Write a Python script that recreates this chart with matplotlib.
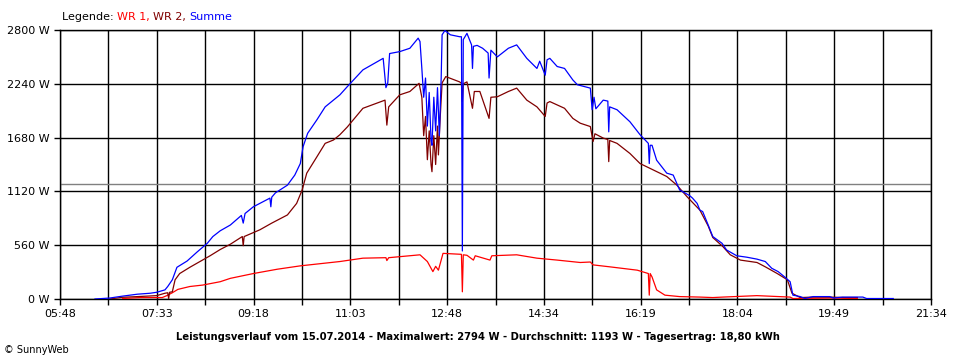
import numpy as np
import matplotlib
matplotlib.use("Agg")
import matplotlib.pyplot as plt

# Daten, Zeit als "HH:MM", Leistung in W
ZEIT_SUMME = ["06:26", "06:42", "06:56", "07:12", "07:26", "07:33", "07:42", "07:45", "07:50", "07:55",
              "08:06", "08:17", "08:28", "08:34", "08:42", "08:53", "09:05", "09:07", "09:09", "09:18",
              "09:36", "09:37", "09:38", "09:42", "09:55", "10:03", "10:09", "10:12", "10:17", "10:27",
              "10:36", "10:45", "10:52", "11:00", "11:17", "11:39", "11:42", "11:44", "11:46", "11:57",
              "12:08", "12:17", "12:19", "12:21", "12:23", "12:25", "12:27", "12:29", "12:31", "12:32",
              "12:34", "12:36", "12:38", "12:40", "12:42", "12:43", "12:46", "12:52", "13:02", "13:04",
              "13:05", "13:06", "13:10", "13:15", "13:16", "13:17", "13:21", "13:27", "13:33", "13:34",
              "13:36", "13:43", "13:55", "14:04", "14:15", "14:26", "14:29", "14:35", "14:37", "14:40",
              "14:48", "14:56", "15:05", "15:10", "15:24", "15:26", "15:28", "15:30", "15:38", "15:43",
              "15:44", "15:45", "15:53", "16:07", "16:18", "16:27", "16:28", "16:29", "16:31", "16:36",
              "16:47", "16:54", "17:01", "17:12", "17:15", "17:20", "17:23", "17:26", "17:32", "17:37",
              "17:47", "17:52", "18:03", "18:14", "18:25", "18:34", "18:41", "18:48", "18:55", "19:01",
              "19:04", "19:12", "19:17", "19:26", "19:44", "19:48", "19:58", "20:20", "20:24", "20:53"]
WERT_SUMME = [0, 10, 30, 50, 60, 70, 95, 130, 200, 330,
              395, 490, 580, 650, 710, 770, 870, 790, 890, 960,
              1050, 960, 1060, 1105, 1185, 1290, 1410, 1585, 1725, 1865,
              2000, 2070, 2125, 2210, 2385, 2505, 2200, 2250, 2555, 2575,
              2610, 2715, 2680, 2400, 2100, 2300, 1800, 2150, 1650, 1600,
              2100, 1750, 2200, 1700, 2300, 2750, 2794, 2750, 2730, 2730,
              500, 2700, 2765, 2645, 2400, 2630, 2640, 2610, 2560, 2300,
              2590, 2520, 2610, 2645, 2505, 2400, 2475, 2330, 2490, 2505,
              2420, 2400, 2280, 2230, 2195, 1970, 2100, 1980, 2070, 2060,
              1740, 2000, 1970, 1845, 1710, 1620, 1410, 1600, 1600, 1445,
              1310, 1290, 1135, 1075, 1050, 995, 925, 910, 770, 650,
              580, 510, 450, 435, 415, 390, 320, 285, 230, 180,
              40, 25, 5, 25, 25, 10, 20, 20, 5, 5]

ZEIT_WR2 = ["06:42", "06:56", "07:12", "07:33", "07:42", "07:45", "07:46", "07:47", "07:50", "07:53",
            "07:58", "08:09", "08:20", "08:31", "08:42", "08:53", "09:06", "09:07", "09:08", "09:25",
            "09:38", "09:55", "10:05", "10:11", "10:16", "10:27", "10:36", "10:45", "10:52", "11:00",
            "11:17", "11:41", "11:43", "11:45", "11:57", "12:08", "12:18", "12:21", "12:23", "12:25",
            "12:27", "12:29", "12:31", "12:32", "12:34", "12:36", "12:38", "12:39", "12:41", "12:43",
            "12:47", "13:02", "13:04", "13:05", "13:06", "13:10", "13:16", "13:18", "13:24", "13:34",
            "13:36", "13:43", "13:55", "14:04", "14:15", "14:26", "14:35", "14:37", "14:40", "14:48",
            "14:56", "15:05", "15:13", "15:24", "15:27", "15:29", "15:38", "15:43", "15:44", "15:45",
            "15:53", "16:07", "16:18", "16:32", "16:47", "16:58", "17:09", "17:23", "17:32", "17:37",
            "17:48", "17:56", "18:07", "18:25", "18:34", "18:47", "18:58", "19:03", "19:12", "19:26",
            "19:44", "20:00", "20:14"]
WERT_WR2 = [0, 18, 25, 35, 60, 65, 5, 70, 75, 200,
            265, 330, 390, 450, 515, 570, 650, 555, 650, 720,
            790, 875, 995, 1135, 1310, 1480, 1620, 1655, 1710, 1790,
            1985, 2070, 1810, 2000, 2125, 2160, 2245, 2100, 1700, 1900,
            1450, 1750, 1400, 1325, 1700, 1400, 1800, 1500, 1900, 2250,
            2315, 2260, 2245, 2055, 2240, 2260, 1985, 2160, 2160, 1880,
            2100, 2105, 2160, 2195, 2070, 2000, 1900, 2040, 2055, 2020,
            1985, 1880, 1830, 1795, 1640, 1720, 1675, 1660, 1430, 1650,
            1620, 1515, 1410, 1345, 1275, 1185, 1065, 925, 760, 640,
            545, 460, 405, 380, 335, 265, 200, 60, 15, 20,
            20, 15, 15]

ZEIT_WR1 = ["06:56", "07:15", "07:39", "07:44", "07:50", "07:56", "08:09", "08:23", "08:42", "08:53",
            "09:18", "09:44", "10:09", "10:52", "11:17", "11:42", "11:43", "11:45", "12:19", "12:27",
            "12:33", "12:36", "12:39", "12:44", "13:04", "13:05", "13:06", "13:10", "13:17", "13:19",
            "13:35", "13:37", "14:04", "14:26", "14:48", "15:13", "15:24", "15:27", "15:45", "16:15",
            "16:27", "16:28", "16:29", "16:31", "16:36", "16:45", "17:01", "17:23", "17:37", "17:48",
            "18:25", "19:01", "19:04", "19:44", "20:14"]
WERT_WR1 = [5, 15, 15, 35, 65, 100, 130, 145, 180, 215,
            265, 310, 345, 390, 425, 430, 400, 430, 460, 390,
            285, 340, 300, 475, 465, 75, 460, 455, 405, 450,
            405, 450, 460, 425, 405, 380, 385, 355, 335, 300,
            265, 40, 265, 230, 95, 40, 25, 20, 15, 20,
            35, 20, 5, 10, 5]

DURCHSCHNITT = 1193
X_LABELS = ["05:48", "07:33", "09:18", "11:03", "12:48", "14:34", "16:19", "18:04", "19:49", "21:34"]
Y_TICKS = [0, 560, 1120, 1680, 2240, 2800]
UNTERTITEL = ("Leistungsverlauf vom 15.07.2014 - Maximalwert: 2794 W - "
              "Durchschnitt: 1193 W - Tagesertrag: 18,80 kWh")


def minuten(zeiten):
    return np.array([int(z[:2]) * 60 + int(z[3:]) for z in zeiten])


fig = plt.figure(figsize=(9.6, 3.6), dpi=100)
ax = fig.add_axes([60 / 960, 61 / 360, 871 / 960, 269 / 360])

x_start, x_end = minuten(["05:48", "21:34"])
major = np.linspace(x_start, x_end, len(X_LABELS))
minor = (major[:-1] + major[1:]) / 2

ax.set_xlim(x_start, x_end)
ax.set_ylim(0, 2800)
ax.set_xticks(major)
ax.set_xticklabels(X_LABELS)
ax.set_xticks(minor, minor=True)
ax.set_yticks(Y_TICKS)
ax.set_yticklabels([f"{v} W" for v in Y_TICKS])
ax.tick_params(axis="both", which="both", direction="out", length=4, width=1,
               color="black", labelsize=8)
ax.tick_params(axis="x", pad=3)
ax.grid(True, which="both", color="black", linewidth=1.0)
ax.set_axisbelow(True)
for s in ax.spines.values():
    s.set_color("black")
    s.set_linewidth(1.0)

ax.axhline(DURCHSCHNITT, color="#808080", linewidth=1.0, zorder=2)
ax.plot(minuten(ZEIT_WR1), WERT_WR1, color="#ff0000", linewidth=0.9, zorder=3)
ax.plot(minuten(ZEIT_WR2), WERT_WR2, color="#800000", linewidth=0.9, zorder=4)
ax.plot(minuten(ZEIT_SUMME), WERT_SUMME, color="#0000ff", linewidth=0.9, zorder=5)

# Legende als farbiger Text
t0 = fig.text(62 / 960, 1 - 17 / 360, "Legende: ", color="black", fontsize=8, va="center")
t1 = ax.annotate("WR 1, ", xy=(1, 0), xycoords=t0, va="bottom", color="#ff0000",
                 fontsize=8, annotation_clip=False)
t2 = ax.annotate("WR 2, ", xy=(1, 0), xycoords=t1, va="bottom", color="#800000",
                 fontsize=8, annotation_clip=False)
ax.annotate("Summe", xy=(1, 0), xycoords=t2, va="bottom", color="#0000ff",
            fontsize=8, annotation_clip=False)

fig.text(478 / 960, 1 - 337 / 360, UNTERTITEL, ha="center", va="center",
         fontsize=8, fontweight="bold", fontstretch="condensed")
fig.text(4 / 960, 1 - 350 / 360, "© SunnyWeb", ha="left", va="center", fontsize=7)

fig.savefig("out.png", dpi=100)
